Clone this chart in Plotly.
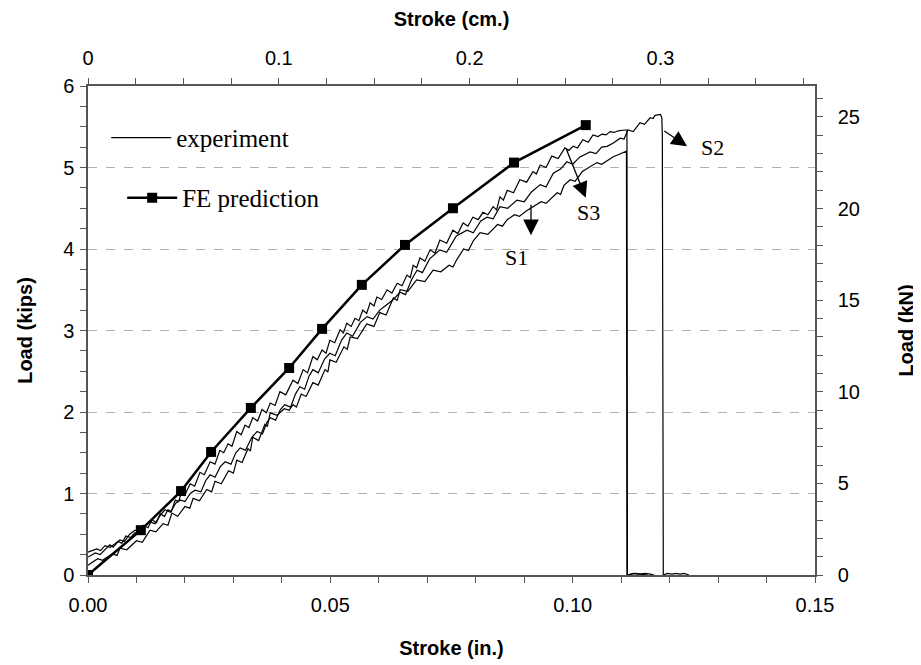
import plotly.graph_objects as go

# ---------------- data (stroke in inches, load in kips) ----------------
fe_x = [0.0, 0.0109, 0.0192, 0.0254, 0.0336, 0.0415, 0.0483, 0.0565, 0.0654, 0.0753, 0.0879, 0.1027]
fe_y = [0.0, 0.55, 1.03, 1.51, 2.05, 2.54, 3.02, 3.56, 4.05, 4.50, 5.06, 5.52]

s1_x = [0.0000, 0.0020, 0.0030, 0.0050, 0.0060, 0.0066, 0.0080, 0.0100, 0.0112, 0.0128, 0.0140, 0.0155,
        0.0165, 0.0173, 0.0185, 0.0200, 0.0210, 0.0217, 0.0230, 0.0245, 0.0255, 0.0262, 0.0275, 0.0290,
        0.0300, 0.0307, 0.0318, 0.0330, 0.0335, 0.0340, 0.0352, 0.0365, 0.0370, 0.0376, 0.0390, 0.0405,
        0.0415, 0.0423, 0.0430, 0.0440, 0.0450, 0.0464, 0.0475, 0.0489, 0.0495, 0.0499, 0.0512, 0.0528,
        0.0535, 0.0541, 0.0556, 0.0575, 0.0590, 0.0602, 0.0615, 0.0630, 0.0638, 0.0644, 0.0660, 0.0678,
        0.0695, 0.0712, 0.0728, 0.0745, 0.0753, 0.0761, 0.0775, 0.0785, 0.0795, 0.0809, 0.0825, 0.0845,
        0.0855, 0.0865, 0.0880, 0.0890, 0.0905, 0.0918, 0.0935, 0.0945, 0.0968, 0.0975, 0.0982, 0.0995,
        0.1005, 0.1020, 0.1035, 0.1050, 0.1060, 0.1075, 0.1083, 0.1095, 0.1108, 0.1111, 0.1112, 0.1120,
        0.1130, 0.1140, 0.1155]
s1_y = [0.12, 0.20, 0.18, 0.26, 0.24, 0.33, 0.31, 0.42, 0.40, 0.55, 0.53, 0.63,
        0.61, 0.76, 0.72, 0.84, 0.82, 0.94, 0.91, 1.05, 1.02, 1.15, 1.12, 1.28,
        1.25, 1.41, 1.38, 1.55, 1.52, 1.69, 1.65, 1.85, 1.82, 1.99, 1.96, 2.04,
        2.02, 2.09, 2.06, 2.22, 2.19, 2.36, 2.33, 2.52, 2.49, 2.64, 2.61, 2.80,
        2.77, 2.92, 2.90, 3.08, 3.05, 3.22, 3.19, 3.40, 3.37, 3.50, 3.48, 3.62,
        3.60, 3.74, 3.72, 3.80, 3.78, 3.87, 4.00, 3.98, 4.10, 4.20, 4.18, 4.30,
        4.28, 4.36, 4.42, 4.40, 4.47, 4.52, 4.58, 4.56, 4.69, 4.67, 4.78, 4.85,
        4.83, 4.95, 5.00, 5.06, 5.04, 5.10, 5.13, 5.16, 5.19, 5.20, 0.00, 0.01,
        0.02, 0.01, 0.00]

s3_x = [0.0000, 0.0015, 0.0025, 0.0045, 0.0052, 0.0062, 0.0070, 0.0078, 0.0088, 0.0097, 0.0105, 0.0114,
        0.0124, 0.0132, 0.0141, 0.0149, 0.0158, 0.0165, 0.0172, 0.0180, 0.0187, 0.0194, 0.0202, 0.0211,
        0.0220, 0.0231, 0.0240, 0.0252, 0.0262, 0.0272, 0.0280, 0.0289, 0.0297, 0.0307, 0.0316, 0.0324,
        0.0332, 0.0340, 0.0350, 0.0359, 0.0368, 0.0376, 0.0386, 0.0396, 0.0408, 0.0423, 0.0433, 0.0444,
        0.0453, 0.0464, 0.0473, 0.0483, 0.0491, 0.0499, 0.0509, 0.0520, 0.0527, 0.0534, 0.0543, 0.0551,
        0.0559, 0.0567, 0.0575, 0.0582, 0.0590, 0.0596, 0.0606, 0.0617, 0.0627, 0.0638, 0.0648, 0.0658,
        0.0665, 0.0671, 0.0678, 0.0685, 0.0695, 0.0706, 0.0716, 0.0726, 0.0740, 0.0753, 0.0763, 0.0774,
        0.0784, 0.0794, 0.0805, 0.0815, 0.0825, 0.0836, 0.0843, 0.0850, 0.0857, 0.0865, 0.0878, 0.0891,
        0.0905, 0.0918, 0.0925, 0.0933, 0.0945, 0.0957, 0.0970, 0.0984, 0.0992, 0.1001, 0.1010, 0.1021,
        0.1032, 0.1042, 0.1052, 0.1061, 0.1069, 0.1077, 0.1086, 0.1094, 0.1108, 0.1112, 0.1113, 0.1125,
        0.1135, 0.1150, 0.1160, 0.1168]
s3_y = [0.22, 0.27, 0.25, 0.37, 0.34, 0.41, 0.39, 0.48, 0.46, 0.52, 0.50, 0.61,
        0.58, 0.68, 0.64, 0.75, 0.72, 0.80, 0.78, 0.92, 0.90, 1.04, 1.01, 1.12,
        1.09, 1.26, 1.23, 1.39, 1.36, 1.53, 1.50, 1.61, 1.58, 1.76, 1.72, 1.84,
        1.81, 1.93, 1.89, 2.03, 1.99, 2.11, 2.08, 2.25, 2.21, 2.39, 2.35, 2.52,
        2.48, 2.68, 2.64, 2.76, 2.72, 2.88, 2.85, 3.01, 2.97, 3.09, 3.05, 3.15,
        3.12, 3.25, 3.21, 3.34, 3.30, 3.41, 3.38, 3.50, 3.46, 3.58, 3.55, 3.68,
        3.65, 3.80, 3.77, 3.89, 3.85, 3.99, 3.95, 4.11, 4.07, 4.23, 4.19, 4.32,
        4.28, 4.39, 4.36, 4.45, 4.42, 4.52, 4.48, 4.64, 4.60, 4.72, 4.69, 4.85,
        4.82, 4.95, 4.92, 5.03, 5.00, 5.14, 5.11, 5.24, 5.21, 5.26, 5.24, 5.34,
        5.31, 5.40, 5.38, 5.41, 5.40, 5.44, 5.43, 5.45, 5.46, 5.46, 0.00, 0.02,
        0.01, 0.02, 0.01, 0.00]

s2_x = [0.0000, 0.0018, 0.0026, 0.0035, 0.0046, 0.0066, 0.0075, 0.0086, 0.0097, 0.0108, 0.0118, 0.0128,
        0.0138, 0.0150, 0.0159, 0.0170, 0.0181, 0.0190, 0.0200, 0.0211, 0.0221, 0.0233, 0.0243, 0.0252,
        0.0262, 0.0273, 0.0283, 0.0295, 0.0305, 0.0314, 0.0325, 0.0338, 0.0349, 0.0360, 0.0369, 0.0376,
        0.0387, 0.0397, 0.0406, 0.0418, 0.0428, 0.0437, 0.0447, 0.0456, 0.0464, 0.0475, 0.0488, 0.0499,
        0.0510, 0.0523, 0.0534, 0.0546, 0.0562, 0.0576, 0.0588, 0.0602, 0.0615, 0.0630, 0.0644, 0.0655,
        0.0668, 0.0679, 0.0690, 0.0705, 0.0726, 0.0740, 0.0760, 0.0782, 0.0795, 0.0810, 0.0823, 0.0836,
        0.0850, 0.0866, 0.0885, 0.0900, 0.0915, 0.0933, 0.0945, 0.0960, 0.0975, 0.0988, 0.1000, 0.1015,
        0.1036, 0.1048, 0.1060, 0.1071, 0.1084, 0.1098, 0.1106, 0.1114, 0.1125, 0.1139, 0.1148, 0.1160,
        0.1166, 0.1170, 0.1181, 0.1184, 0.1185, 0.1187, 0.1195, 0.1205, 0.1212, 0.1222, 0.1230, 0.1240]
s2_y = [0.28, 0.32, 0.30, 0.36, 0.34, 0.43, 0.41, 0.50, 0.55, 0.53, 0.61, 0.65,
        0.63, 0.74, 0.80, 0.77, 0.88, 0.92, 0.90, 1.00, 1.04, 1.02, 1.16, 1.23,
        1.20, 1.33, 1.39, 1.36, 1.50, 1.56, 1.53, 1.69, 1.76, 1.73, 1.87, 1.93,
        1.90, 2.03, 2.09, 2.06, 2.22, 2.31, 2.28, 2.44, 2.52, 2.48, 2.65, 2.72,
        2.69, 2.88, 2.97, 2.93, 3.10, 3.17, 3.14, 3.25, 3.31, 3.38, 3.47, 3.44,
        3.63, 3.74, 3.71, 3.88, 3.99, 3.96, 4.16, 4.23, 4.20, 4.34, 4.39, 4.37,
        4.52, 4.50, 4.60, 4.58, 4.70, 4.79, 4.76, 4.93, 4.98, 5.07, 5.04, 5.13,
        5.19, 5.17, 5.25, 5.26, 5.30, 5.36, 5.35, 5.46, 5.44, 5.55, 5.53, 5.61,
        5.60, 5.64, 5.65, 5.61, 5.40, 0.00, 0.02, 0.01, 0.02, 0.01, 0.02, 0.00]

IN_TO_CM = 2.54
KIP_TO_KN = 4.448

x_ticks_in = [0.00, 0.05, 0.10, 0.15]
x_ticks_cm = [0, 0.1, 0.2, 0.3]
y_ticks_kips = [0, 1, 2, 3, 4, 5, 6]
y_ticks_kn = [0, 5, 10, 15, 20, 25]

TICKFONT = dict(family="Liberation Sans, Arial, sans-serif", size=20, color="#000")
TITLEFONT = dict(family="Liberation Sans, Arial, sans-serif", size=20, color="#000", weight="bold")
SERIF = "Liberation Serif, Times New Roman, serif"
AXCOL = "#555555"

fig = go.Figure()

exp_style = dict(color="black", width=1.2)
fig.add_trace(go.Scatter(x=s1_x, y=s1_y, mode="lines", line=exp_style, name="experiment",
                         legend="legend", showlegend=True, hoverinfo="skip"))
fig.add_trace(go.Scatter(x=s3_x, y=s3_y, mode="lines", line=exp_style, showlegend=False, hoverinfo="skip"))
fig.add_trace(go.Scatter(x=s2_x, y=s2_y, mode="lines", line=exp_style, showlegend=False, hoverinfo="skip"))
fig.add_trace(go.Scatter(x=fe_x, y=fe_y, mode="lines+markers", name="FE prediction",
                         line=dict(color="black", width=2.5),
                         marker=dict(symbol="square", size=10, color="black"),
                         legend="legend2", showlegend=True))
# secondary axes carry the same FE prediction in SI units (invisible)
fig.add_trace(go.Scatter(x=[v * IN_TO_CM for v in fe_x], y=[v * KIP_TO_KN for v in fe_y],
                         xaxis="x2", yaxis="y2", mode="lines", opacity=0,
                         showlegend=False, hoverinfo="skip"))

common_axis = dict(showline=True, linecolor=AXCOL, linewidth=1.5, ticks="outside",
                   ticklen=6, tickcolor=AXCOL, tickwidth=1, zeroline=False,
                   tickfont=TICKFONT, fixedrange=True, automargin=False)

# the page body adds an 8 px offset, so the figure is 8 px smaller than the window
fig.update_layout(
    width=913, height=657,
    paper_bgcolor="white", plot_bgcolor="white",
    margin=dict(l=80, r=106, t=78, b=90),
    xaxis=dict(range=[0, 0.15], tickvals=x_ticks_in, tickformat=".2f",
               minor=dict(dtick=0.01, ticklen=6, tickcolor=AXCOL, ticks="outside"),
               showgrid=False, ticklabelstandoff=5,
               title=dict(text="Stroke (in.)", font=TITLEFONT, standoff=26), **common_axis),
    xaxis2=dict(range=[0, 0.15 * IN_TO_CM], overlaying="x", side="top", anchor="y",
                tickvals=x_ticks_cm, ticktext=["0", "0.1", "0.2", "0.3"],
                minor=dict(dtick=0.025, ticklen=6, tickcolor=AXCOL, ticks="outside"),
                showgrid=False, ticklabelstandoff=5,
                title=dict(text="Stroke (cm.)", font=TITLEFONT, standoff=15), **common_axis),
    yaxis=dict(range=[0, 6], tickvals=y_ticks_kips,
               minor=dict(dtick=0.25, ticklen=6, tickcolor=AXCOL, ticks="outside"),
               showgrid=True, gridcolor="#b0b0b0", griddash="dash", gridwidth=1,
               ticklabelstandoff=2,
               title=dict(text="Load (kips)", font=TITLEFONT, standoff=25), **common_axis),
    yaxis2=dict(range=[0, 6 * KIP_TO_KN], overlaying="y", side="right", anchor="x",
                tickvals=y_ticks_kn,
                minor=dict(dtick=1, ticklen=6, tickcolor=AXCOL, ticks="outside"),
                showgrid=False, ticklabelstandoff=11,
                title=dict(text="Load (kN)", font=TITLEFONT, standoff=40), **common_axis),
    legend=dict(x=0.025, y=0.894, xanchor="left", yanchor="middle", bgcolor="rgba(0,0,0,0)",
                font=dict(family=SERIF, size=25, color="black"), itemwidth=60),
    legend2=dict(x=0.047, y=0.771, xanchor="left", yanchor="middle", bgcolor="rgba(0,0,0,0)",
                 font=dict(family=SERIF, size=25, color="black"), itemwidth=50),
    showlegend=True,
)

lab_font = dict(family=SERIF, size=22, color="black")
# arrows: (tip x, tip y, tail x, tail y)
arrows = [(0.0914, 4.17, 0.0914, 4.56), (0.1027, 4.63, 0.0986, 5.24), (0.1236, 5.26, 0.1186, 5.46)]
for tx, ty, sx, sy in arrows:
    fig.add_annotation(x=tx, y=ty, ax=sx, ay=sy, axref="x", ayref="y", xref="x", yref="y",
                       text="", showarrow=True, arrowhead=2, arrowsize=2.4, arrowwidth=1.3,
                       arrowcolor="black", standoff=0, startstandoff=0)
labels = [("S1", 0.0885, 3.90), ("S3", 0.1032, 4.45), ("S2", 0.1289, 5.24)]
for t, lx, ly in labels:
    fig.add_annotation(x=lx, y=ly, text=t, showarrow=False, font=lab_font, xref="x", yref="y")

fig.write_html("out.html")
